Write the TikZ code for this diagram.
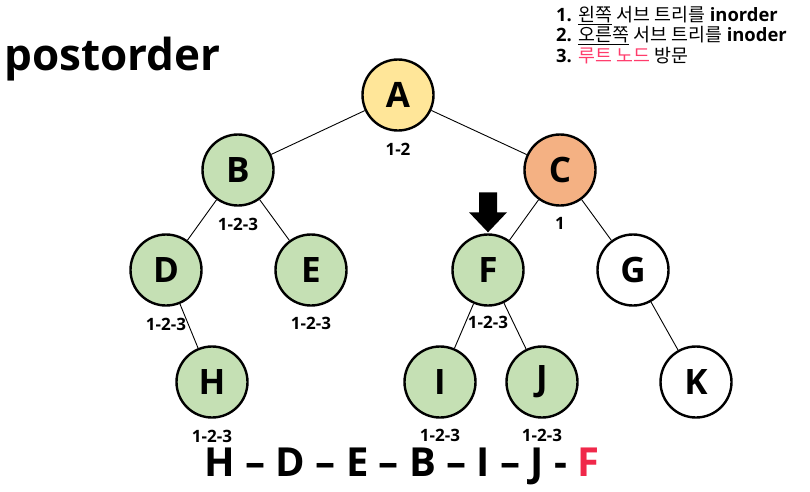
\documentclass[tikz,border=0pt]{standalone}
\usepackage{fontspec}
\setmainfont{Open Sans}
\newfontfamily\kr{Noto Sans CJK KR}
\usepackage{xcolor}
\usetikzlibrary{positioning,calc}

\definecolor{nyellow}{HTML}{FFE699}
\definecolor{norange}{HTML}{F4B183}
\definecolor{ngreen}{HTML}{C5E0B4}
\definecolor{fred}{HTML}{F0284A}
\definecolor{kred}{HTML}{FF3B6B}

\begin{document}
\begin{tikzpicture}[x=1pt,y=-1pt,
  nd/.style={draw,circle,line width=2.4pt,minimum size=71pt,inner sep=0pt,
    font=\bfseries\fontsize{35}{35}\selectfont},
  lbl/.style={font=\bfseries\fontsize{17}{17}\selectfont,inner sep=1pt},
  edge/.style={draw,line width=0.9pt}]
  \useasboundingbox (0,0) rectangle (810,491);
  % title
  \node[anchor=base west,inner sep=0pt,font=\bfseries\fontsize{44}{44}\selectfont] (title) at (4,70) {postorder};
  % legend
  \node[anchor=north west,align=left,inner sep=0pt,font=\fontsize{18.4}{20.3}\selectfont] (legend) at (556,6)
    {\textbf{1.} {\kr\underline{왼쪽} 서브 트리를} \textbf{inorder}\\
     \textbf{2.} {\kr\underline{오른쪽} 서브 트리를} \textbf{inoder}\\
     \textbf{3.} {\kr\textcolor{kred}{루트 노드} 방문}};
  % tree
  \node[nd,fill=nyellow] (A) at (398,95) {A};
  \node[nd,fill=ngreen] (B) at (238,170) {B};
  \node[nd,fill=norange] (C) at (560,170) {C};
  \node[nd,fill=ngreen] (D) at (166,270) {D};
  \node[nd,fill=ngreen] (E) at (311,270) {E};
  \node[nd,fill=ngreen] (F) at (488,270) {F};
  \node[nd,fill=white] (G) at (633,270) {G};
  \node[nd,fill=ngreen] (H) at (212,382) {H};
  \node[nd,fill=ngreen] (I) at (440,382) {I};
  \node[nd,fill=ngreen] (J) at (542,382) {J};
  \node[nd,fill=white] (K) at (696,382) {K};
  \draw[edge] (A) -- (B); \draw[edge] (A) -- (C);
  \draw[edge] (B) -- (D); \draw[edge] (B) -- (E);
  \draw[edge] (C) -- (F); \draw[edge] (C) -- (G);
  \draw[edge] (D) -- (H);
  \draw[edge] (F) -- (I); \draw[edge] (F) -- (J);
  \draw[edge] (G) -- (K);
  % visit counts
  \node[lbl,below=10pt of A] (lA) {1-2};
  \node[lbl,below=10pt of B] (lB) {1-2-3};
  \node[lbl,below=9pt of C] (lC) {1};
  \node[lbl,below=10pt of D] (lD) {1-2-3};
  \node[lbl,below=9pt of E] (lE) {1-2-3};
  \node[lbl,below=8pt of F] (lF) {1-2-3};
  \node[lbl,below=10pt of H] (lH) {1-2-3};
  \node[lbl,below=9pt of I] (lI) {1-2-3};
  \node[lbl,below=9pt of J] (lJ) {1-2-3};
  % current node
  \coordinate (tip) at ($(F.north)+(0,-1)$);
  \fill (tip) -- ++(-19,-20) -- ++(10,0) -- ++(0,-20) -- ++(18,0)
    -- ++(0,20) -- ++(10,0) -- cycle;
  % result
  \node[font=\bfseries\fontsize{40}{40}\selectfont,inner sep=0pt] (seq) at (402,466)
    {H -- D -- E -- B -- I -- J - \textcolor{fred}{F}};
\end{tikzpicture}
\end{document}
